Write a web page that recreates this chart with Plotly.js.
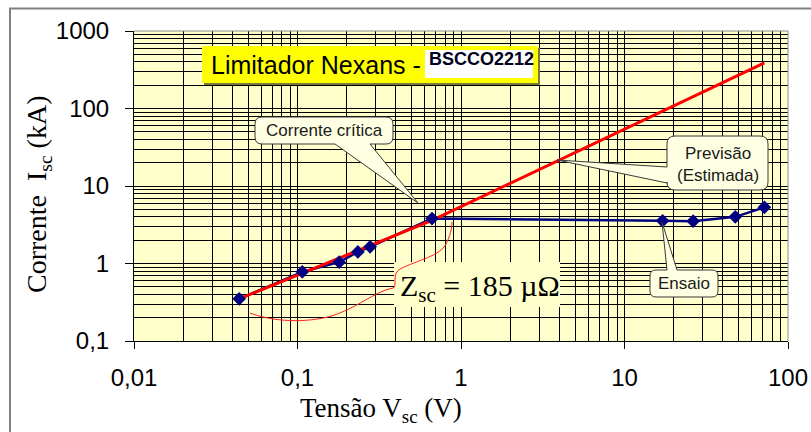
<!DOCTYPE html>
<html>
<head>
<meta charset="utf-8">
<script src="https://cdn.plot.ly/plotly-3.0.1.min.js"></script>
<style>
  html, body { margin: 0; padding: 0; background: #ffffff; }
  #chart { width: 811px; height: 432px; }
</style>
</head>
<body>
<div id="chart"></div>
<script>
// Ensaio (measured): short-circuit voltage (V) and current (kA)
const ensaioTensao   = [0.044, 0.107, 0.18, 0.234, 0.278, 0.665, 17.1, 26.3, 47.6, 71.7];
const ensaioCorrente = [0.35, 0.78, 1.04, 1.41, 1.64, 3.8, 3.55, 3.52, 4.0, 5.3];

// Previsão (estimated): follows the low-voltage points, then the Zsc line
const previsaoTensao   = [0.044, 0.665, 71.7];
const previsaoCorrente = [0.35, 3.6, 388];

// Axis ticks (decimal comma)
const xTickVals = [0.01, 0.1, 1, 10, 100];
const xTickText = ['0,01', '0,1', '1', '10', '100'];
const yTickVals = [0.1, 1, 10, 100, 1000];
const yTickText = ['0,1', '1', '10', '100', '1000'];

// Plot area in page pixels
const FW = 811, FH = 432;
const L = 134, T = 31, W = 654, H = 310;
const X = p => (p - L) / W;          // pixel x -> paper x
const Y = p => (T + H - p) / H;      // pixel y -> paper y

// Build an SVG path (paper coords) from pixel commands
function toPath(cmds) {
  return cmds.map(c => {
    const out = [c[0]];
    for (let i = 1; i < c.length; i += 2) {
      out.push(X(c[i]).toFixed(5) + ',' + Y(c[i + 1]).toFixed(5));
    }
    return out.join(' ');
  }).join(' ');
}

// Rounded speech-bubble outline with a wedge pointing to (tx, ty)
function callout(x0, y0, x1, y1, r, side, a, b, tx, ty) {
  const c = [['M', x0 + r, y0]];
  if (side === 'top') c.push(['L', a, y0], ['L', tx, ty], ['L', b, y0]);
  c.push(['L', x1 - r, y0], ['Q', x1, y0, x1, y0 + r], ['L', x1, y1 - r], ['Q', x1, y1, x1 - r, y1]);
  if (side === 'bottom') c.push(['L', b, y1], ['L', tx, ty], ['L', a, y1]);
  c.push(['L', x0 + r, y1], ['Q', x0, y1, x0, y1 - r]);
  if (side === 'left') c.push(['L', x0, b], ['L', tx, ty], ['L', x0, a]);
  c.push(['L', x0, y0 + r], ['Q', x0, y0, x0 + r, y0], ['Z']);
  return toPath(c);
}

const SANS = 'Arial, "Liberation Sans", sans-serif';
const SERIF = '"Times New Roman", "Liberation Serif", serif';
const NAVY = '#000080';
const BG = '#FFFFCC';
const BUBBLE = '#FFFFE3';

const traces = [
  {
    x: ensaioTensao, y: ensaioCorrente, mode: 'lines', name: 'Ensaio',
    line: { color: NAVY, width: 2.5 }, hoverinfo: 'skip'
  },
  {
    x: previsaoTensao, y: previsaoCorrente, mode: 'lines', name: 'Previsão',
    line: { color: '#FF0000', width: 3 }, hoverinfo: 'skip'
  },
  {
    x: ensaioTensao, y: ensaioCorrente, mode: 'markers', name: 'Ensaio',
    marker: { symbol: 'diamond', size: 10.5, color: NAVY, line: { width: 0 } }, hoverinfo: 'skip'
  }
];

const gridStyle = { showgrid: true, gridcolor: '#000000', gridwidth: 1 };

const layout = {
  width: FW, height: FH,
  margin: { l: L, r: FW - L - W, t: T, b: FH - T - H, pad: 0 },
  paper_bgcolor: '#ffffff',
  plot_bgcolor: BG,
  showlegend: false,
  font: { family: SANS, color: '#000000' },
  xaxis: Object.assign({
    type: 'log', range: [-2, 2],
    tickmode: 'array', tickvals: xTickVals, ticktext: xTickText,
    ticks: 'outside', ticklen: 7, tickwidth: 1, tickcolor: '#000',
    tickfont: { family: SANS, size: 24, color: '#000' },
    ticklabelstandoff: 8,
    showline: true, linecolor: '#000', linewidth: 1, zeroline: false,
    minor: Object.assign({ dtick: 'D1', ticks: '' }, gridStyle)
  }, gridStyle),
  yaxis: Object.assign({
    type: 'log', range: [-1, 3],
    tickmode: 'array', tickvals: yTickVals, ticktext: yTickText,
    ticks: 'outside', ticklen: 8, tickwidth: 1, tickcolor: '#000',
    tickfont: { family: SANS, size: 24, color: '#000' },
    ticklabelstandoff: 11,
    showline: true, linecolor: '#000', linewidth: 1, zeroline: false,
    minor: Object.assign({ dtick: 'D1', ticks: '' }, gridStyle)
  }, gridStyle),
  shapes: [
    // outer frame (top and left edges)
    { type: 'path', xref: 'paper', yref: 'paper', layer: 'above',
      path: toPath([['M', 10, 440], ['L', 10, 8.5], ['L', 820, 8.5]]),
      line: { color: '#808080', width: 2 } },
    // top/right plot border
    { type: 'path', xref: 'paper', yref: 'paper', layer: 'above',
      path: toPath([['M', L, T], ['L', L + W, T], ['L', L + W, T + H]]),
      line: { color: '#8c8c8c', width: 1 } },
    // title box: shadow, yellow panel, white tag
    { type: 'rect', xref: 'paper', yref: 'paper', layer: 'above',
      x0: X(204), x1: X(540), y0: Y(48), y1: Y(85),
      fillcolor: '#7a7a40', line: { width: 0 } },
    { type: 'rect', xref: 'paper', yref: 'paper', layer: 'above',
      x0: X(202), x1: X(538), y0: Y(46), y1: Y(83),
      fillcolor: '#FFFF00', line: { width: 0 } },
    { type: 'rect', xref: 'paper', yref: 'paper', layer: 'above',
      x0: X(425), x1: X(533), y0: Y(50), y1: Y(78),
      fillcolor: '#FFFFFF', line: { width: 0 } },
    // callouts
    { type: 'path', xref: 'paper', yref: 'paper', layer: 'above',
      path: callout(255, 117, 393, 144, 7, 'bottom', 335, 370, 418, 203),
      fillcolor: BUBBLE, line: { color: '#3a3a3a', width: 1 } },
    { type: 'path', xref: 'paper', yref: 'paper', layer: 'above',
      path: callout(667, 136, 768, 190, 8, 'left', 167, 183, 557, 160),
      fillcolor: BUBBLE, line: { color: '#3a3a3a', width: 1 } },
    { type: 'path', xref: 'paper', yref: 'paper', layer: 'above',
      path: callout(650, 270, 718, 297, 6, 'top', 667, 677, 662, 222),
      fillcolor: BUBBLE, line: { color: '#3a3a3a', width: 1 } },
    // impedance label panel
    { type: 'rect', xref: 'paper', yref: 'paper', layer: 'above',
      x0: X(394), x1: X(560), y0: Y(262), y1: Y(307),
      fillcolor: BG, line: { width: 0 } },
    // red brace under the fitted line
    { type: 'path', xref: 'paper', yref: 'paper', layer: 'above',
      path: toPath([
        ['M', 250, 313],
        ['C', 268, 320, 298, 324, 328, 317],
        ['C', 355, 310, 375, 291, 393, 288],
        ['C', 398, 287, 391, 274, 400, 269],
        ['C', 418, 260, 440, 256, 446, 244],
        ['C', 450, 236, 452, 229, 452, 222]
      ]),
      line: { color: '#FF2020', width: 1 } }
  ],
  annotations: [
    { xref: 'paper', yref: 'paper', x: X(209), y: Y(64.5), xanchor: 'left', yanchor: 'middle',
      text: 'Limitador Nexans -', showarrow: false,
      font: { family: SANS, size: 25, color: '#000' } },
    { xref: 'paper', yref: 'paper', x: X(427), y: Y(59), xanchor: 'left', yanchor: 'middle',
      text: '<b>BSCCO2212</b>', showarrow: false,
      font: { family: SANS, size: 18, color: '#000020' } },
    { xref: 'paper', yref: 'paper', x: X(324), y: Y(130.5), xanchor: 'center', yanchor: 'middle',
      text: 'Corrente crítica', showarrow: false,
      font: { family: SANS, size: 17, color: '#1a1a1a' } },
    { xref: 'paper', yref: 'paper', x: X(718), y: Y(164), xanchor: 'center', yanchor: 'middle',
      text: 'Previsão<br>(Estimada)', showarrow: false,
      font: { family: SANS, size: 17, color: '#1a1a1a' } },
    { xref: 'paper', yref: 'paper', x: X(684), y: Y(283.5), xanchor: 'center', yanchor: 'middle',
      text: 'Ensaio', showarrow: false,
      font: { family: SANS, size: 17, color: '#1a1a1a' } },
    { xref: 'paper', yref: 'paper', x: X(480), y: Y(288), xanchor: 'center', yanchor: 'middle',
      text: 'Z<sub>sc</sub> = 185 µΩ', showarrow: false,
      font: { family: SERIF, size: 30, color: '#000' } },
    // axis titles
    { xref: 'paper', yref: 'paper', x: X(381), y: Y(410), xanchor: 'center', yanchor: 'middle',
      text: 'Tensão V<sub>sc</sub> (V)', showarrow: false,
      font: { family: SERIF, size: 27, color: '#000' } },
    { xref: 'paper', yref: 'paper', x: X(38), y: Y(194), xanchor: 'center', yanchor: 'middle',
      text: 'Corrente  I<sub>sc</sub> (kA)', showarrow: false, textangle: -90,
      font: { family: SERIF, size: 28, color: '#000' } }
  ]
};

Plotly.newPlot('chart', traces, layout, { displayModeBar: false, staticPlot: true });
</script>
</body>
</html>
